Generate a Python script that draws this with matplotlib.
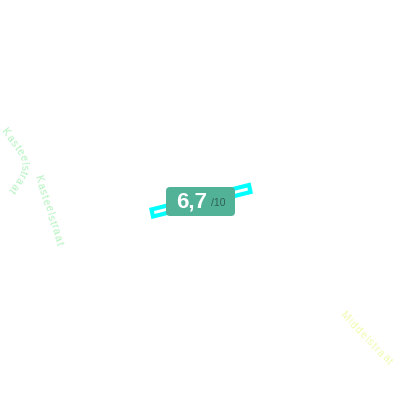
import numpy as np
from matplotlib import pyplot as plt
from matplotlib.patches import Polygon, FancyBboxPatch
from matplotlib.textpath import TextPath
from matplotlib.font_manager import FontProperties

score = "6,7"
score_max = "/10"

road_x = [151.5, 249, 250.5, 153]
road_y = [209.5, 185, 192, 216.5]

street_names = ["Kasteelstraat", "Kasteelstraat", "Middelstraat"]
street_paths = [
    ([5, 14, 22, 24, 18, 11], [132, 143, 155, 170, 181, 190]),
    ([38, 59], [178, 243]),
    ([344, 389], [316, 362]),
]
street_colors = ["#b4f3bf", "#b4f3bf", "#f1fbb0"]

font = FontProperties(family='Liberation Sans')


def text_on_path(ax, name, xs, ys, color):
    xs = np.array(xs, dtype=float)
    ys = np.array(ys, dtype=float)
    dist = np.r_[0, np.cumsum(np.hypot(np.diff(xs), np.diff(ys)))]
    # spread the letters by their own widths so narrow ones do not leave gaps
    widths = [TextPath((0, 0), "x" + ch + "x", size=10, prop=font).get_extents().width
              for ch in name]
    widths = np.array(widths) - TextPath((0, 0), "xx", size=10, prop=font).get_extents().width
    mids = np.cumsum(widths) - widths / 2
    pos = (mids - mids[0]) / (mids[-1] - mids[0]) * dist[-1]
    cx = np.interp(pos, dist, xs)
    cy = np.interp(pos, dist, ys)
    for i, ch in enumerate(name):
        d0 = max(pos[i] - 3, 0)
        d1 = min(pos[i] + 3, dist[-1])
        dx = np.interp(d1, dist, xs) - np.interp(d0, dist, xs)
        dy = np.interp(d1, dist, ys) - np.interp(d0, dist, ys)
        angle = -np.degrees(np.arctan2(dy, dx))
        ax.text(cx[i], cy[i], ch, fontsize=7.5, color=color, rotation=angle,
                family='Liberation Sans', rotation_mode='anchor', ha='center', va='center')


fig = plt.figure(figsize=(4, 4), dpi=100)
ax = fig.add_axes([0, 0, 1, 1])
ax.set_xlim(0, 400)
ax.set_ylim(400, 0)
ax.axis('off')

ax.add_patch(Polygon(np.column_stack([road_x, road_y]), closed=True,
                     facecolor='white', edgecolor='#00ffff', linewidth=3.0,
                     joinstyle='miter'))

for name, path, color in zip(street_names, street_paths, street_colors):
    text_on_path(ax, name, path[0], path[1], color)

ax.add_patch(FancyBboxPatch((169, 190), 63, 23, boxstyle="round,pad=3,rounding_size=4",
                            facecolor='#52b298', edgecolor='none', zorder=3))
ax.text(192, 202, score, color='white', fontsize=16, fontweight='bold',
        family='Liberation Sans', ha='center', va='center', zorder=4)
ax.text(218, 203.5, score_max, color='#2f5f52', fontsize=7.5,
        family='Liberation Sans', ha='center', va='center', zorder=4)

fig.savefig('out.png', dpi=100)
